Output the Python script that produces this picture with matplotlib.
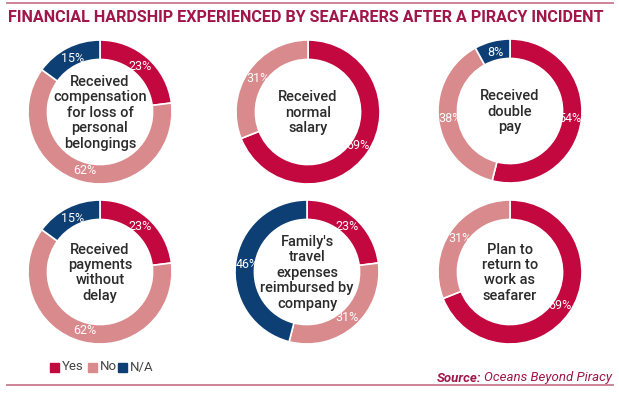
import matplotlib
matplotlib.use('Agg')
import matplotlib.pyplot as plt
from matplotlib.patches import Rectangle

plt.rcParams['font.family'] = ['Roboto', 'DejaVu Sans']

# data
titles = ["Received\ncompensation\nfor loss of\npersonal\nbelongings",
          "Received\nnormal\nsalary",
          "Received\ndouble\npay",
          "Received\npayments\nwithout\ndelay",
          "Family's\ntravel\nexpenses\nreimbursed by\ncompany",
          "Plan to\nreturn to\nwork as\nseafarer"]
yes = [23, 69, 54, 23, 23, 69]
no = [62, 31, 38, 62, 31, 31]
na = [15, 0, 8, 15, 46, 0]
categories = ["Yes", "No", "N/A"]
colors = ["#C3073F", "#D98A8C", "#0E3F74"]

W, H = 619, 397
fig = plt.figure(figsize=(W / 100, H / 100), dpi=100)
fig.patch.set_facecolor('white')
rend = fig.canvas.get_renderer()

# donut centres in pixels (x, y from top) and radius
centers = [(100, 112), (308, 112), (510, 111), (100, 272), (307, 272), (510, 272)]
R = 72

title_col = "#A0154A"
line_col = "#C9798F"

for i, (cx, cy) in enumerate(centers):
  ax = fig.add_axes([(cx - R) / W, 1 - (cy + R) / H, 2 * R / W, 2 * R / H])
  vals = [yes[i], no[i], na[i]]
  keep = [k for k in range(3) if vals[k] > 0]
  ax.pie([vals[k] for k in keep],
         colors=[colors[k] for k in keep],
         startangle=90, counterclock=False, radius=1.0,
         wedgeprops=dict(width=0.27, edgecolor='white', linewidth=1.2),
         autopct='%d%%', pctdistance=0.84,
         textprops=dict(color='white', fontsize=9))
  ax.set_aspect('equal')
  ax.set_xlim(-1, 1)
  ax.set_ylim(-1, 1)
  ax.text(0, -0.01, titles[i], ha='center', va='center', fontsize=10.5,
          fontweight='medium', color='#2B2B2B', linespacing=1.13)

# title and rules
fig.add_artist(plt.Line2D([0.012, 0.99], [1 - 3 / H, 1 - 3 / H], color=line_col, lw=1.3))
t = fig.text(8 / W, 1 - 17 / H, "FINANCIAL HARDSHIP EXPERIENCED BY SEAFARERS AFTER A PIRACY INCIDENT",
             ha='left', va='center', fontsize=12, fontweight='bold', color=title_col)
w = t.get_window_extent(rend).width
t.set_fontsize(12 * 594 / w)
fig.add_artist(plt.Line2D([0.012, 0.99], [1 - 385 / H, 1 - 385 / H], color=line_col, lw=1.3))

# legend
lx = [50, 88, 118]
for k, name in enumerate(categories):
  fig.add_artist(Rectangle((lx[k] / W, 1 - 372 / H), 9 / W, 9 / H,
                           transform=fig.transFigure, color=colors[k]))
  fig.text((lx[k] + 12) / W, 1 - 367 / H, name, ha='left', va='center',
           fontsize=9.5, color='#444444')

# source
s = fig.text(612 / W, 1 - 378 / H, "Oceans Beyond Piracy", ha='right', va='center',
             fontsize=9.5, style='italic', color=title_col)
sw = s.get_window_extent(rend).width
fig.text((612 - sw - 3) / W, 1 - 378 / H, "Source:", ha='right', va='center',
         fontsize=9.5, style='italic', fontweight='bold', color=title_col)

fig.savefig('out.png', dpi=100)
